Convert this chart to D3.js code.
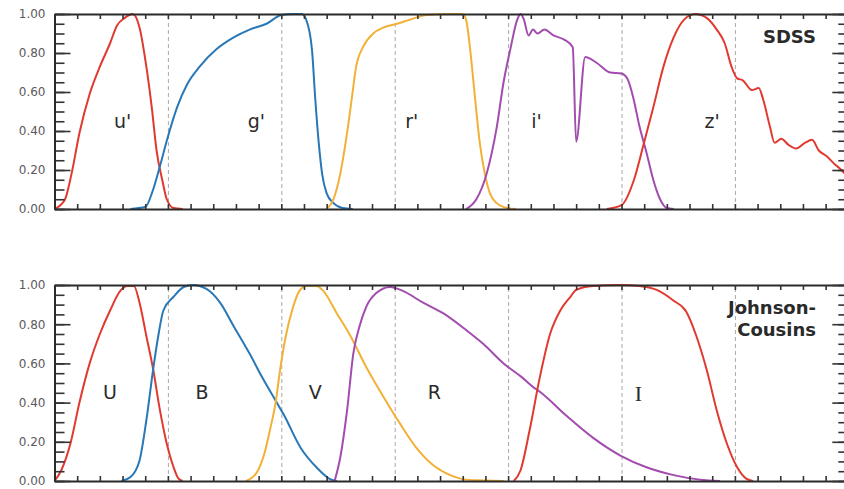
<!DOCTYPE html>
<html>
<head>
<meta charset="utf-8">
<script src="https://cdn.jsdelivr.net/npm/d3@7"></script>
<style>
  body { margin: 0; background: #fff; }
  svg { display: block; }
</style>
</head>
<body>
<div id="chart"></div>
<script>
// filter curves as [wavelength nm, transmission]
var uSdss = [[300,0],[309,0.046],[315,0.18],[322,0.39],[331,0.59],[340,0.73],[349,0.85],[355,0.94],[362,0.98],[369,1.0],[375,0.93],[381,0.73],[386,0.51],[390,0.30],[395,0.15],[399,0.05],[405,0.005],[413,0]];
var gSdss = [[367,0],[380,0.01],[387,0.1],[393,0.22],[399,0.35],[408,0.52],[417,0.64],[428,0.73],[443,0.82],[458,0.88],[472,0.92],[487,0.95],[500,0.995],[510,1.0],[518,1.0],[522,0.97],[527,0.82],[530,0.56],[533,0.34],[536,0.18],[540,0.08],[546,0.03],[554,0.005],[563,0]];
var rSdss = [[540,0],[546,0.05],[552,0.18],[558,0.39],[562,0.56],[566,0.73],[572,0.83],[581,0.90],[590,0.93],[602,0.95],[613,0.97],[628,0.995],[649,1.0],[660,1.0],[663,0.97],[666.5,0.82],[671,0.56],[675,0.34],[679.5,0.18],[684,0.08],[690,0.03],[699,0.005],[707,0]];
var iSdss = [[663,0],[672,0.05],[681,0.18],[690,0.42],[696,0.65],[702,0.82],[708,0.97],[711,1.0],[714,0.97],[718,0.89],[722,0.92],[726,0.90],[732,0.92],[740,0.89],[749,0.87],[757,0.83],[760,0.345],[768,0.78],[778,0.75],[790,0.70],[800,0.695],[805,0.67],[810,0.58],[816,0.42],[822,0.29],[828,0.15],[834,0.05],[840,0.005],[846,0]];
var zSdss = [[787,0],[800,0.02],[811,0.15],[819,0.32],[828,0.52],[837,0.73],[846,0.88],[855,0.97],[865,1.0],[875,0.98],[884,0.92],[891,0.85],[897,0.73],[902,0.67],[907,0.66],[915,0.61],[921,0.62],[925,0.56],[931,0.42],[935,0.34],[941,0.36],[947,0.33],[954,0.31],[962,0.34],[968,0.355],[974,0.30],[981,0.27],[988,0.23],[994,0.20],[1000,0.16]];

var uJc = [[300,0],[306,0.055],[314,0.19],[322,0.40],[331,0.60],[340,0.75],[349,0.87],[358,0.97],[364,0.995],[370,0.995],[375,0.91],[381,0.74],[387,0.57],[393,0.36],[399,0.19],[405,0.07],[409,0.015],[413,0]];
var bJc = [[359,0],[367,0.02],[375,0.105],[381,0.31],[387,0.57],[391.5,0.74],[396,0.87],[405,0.94],[414,0.99],[422,1.0],[434,0.98],[446,0.91],[458,0.79],[472,0.65],[484,0.52],[496,0.40],[502,0.34],[517,0.17],[531,0.07],[543,0.01],[549,0]];
var vJc = [[469,0],[478,0.04],[486,0.16],[490,0.26],[495,0.40],[499,0.57],[504,0.74],[510,0.88],[516,0.97],[522,0.995],[531,0.995],[537,0.97],[549,0.855],[561,0.74],[575,0.58],[590,0.43],[605,0.29],[619,0.17],[634,0.08],[649,0.03],[663,0.007],[678,0.003],[696,0]];
var rJc = [[547,0],[552,0.12],[558,0.36],[563.5,0.65],[569,0.79],[575,0.89],[584,0.96],[596,0.99],[607,0.97],[625,0.91],[643,0.855],[663,0.77],[678,0.70],[696,0.60],[712,0.53],[722,0.48],[728,0.455],[752,0.33],[775,0.22],[799,0.13],[822,0.07],[846,0.03],[869,0.007],[887,0]];
var iJc = [[705,0],[711,0.055],[719,0.26],[728,0.53],[737,0.75],[746,0.87],[755,0.94],[760,0.975],[775,0.995],[799,1.0],[816,0.995],[831,0.975],[846,0.92],[857,0.865],[866,0.74],[875,0.57],[884,0.36],[893,0.19],[902,0.07],[910,0.012],[916,0]];

var sdssNames = ["u'", "g'", "r'", "i'", "z'"];
var sdssLabelNm = [360, 478, 615, 725, 880];
var jcNames = ["U", "B", "V", "R", "I"];
var jcLabelNm = [349, 430, 530, 635, 815];
var yTickValues = [0, 0.2, 0.4, 0.6, 0.8, 1.0];

var red = "#e03a30", blue = "#2878b8", orange = "#f2b136", purple = "#a24cae";
var bandColors = [red, blue, orange, purple, red];

var width = 844, height = 489;

var svg = d3.select("#chart")
  .append("svg")
    .attr("width", width)
    .attr("height", height);

// x is wavelength, same for both panels
var x = d3.scaleLinear().domain([300, 1000]).range([54.5, 848.3]);

var line = function(y) {
  return d3.line()
    .x(function(d) { return x(d[0]); })
    .y(function(d) { return y(d[1]); })
    .curve(d3.curveMonotoneX);
}

function panel(top, bottom, curves, names, labelNm, title) {
  var y = d3.scaleLinear().domain([0, 1]).range([bottom, top]);
  var g = svg.append("g");
  var h = bottom - top;

  // dashed verticals every 100 nm
  g.append("g")
    .attr("transform", "translate(0," + bottom + ")")
    .call(d3.axisBottom(x).tickValues(d3.range(400, 1000, 100)).tickSize(-h).tickFormat(""))
    .call(function(a) { a.select(".domain").remove(); })
    .selectAll(".tick line")
      .attr("stroke", "#a8a8a8")
      .attr("stroke-width", 1)
      .attr("stroke-dasharray", "4,3");

  // curves
  curves.forEach(function(c, i) {
    g.append("path")
      .datum(c)
      .attr("fill", "none")
      .attr("stroke", bandColors[i])
      .attr("stroke-width", 2)
      .attr("stroke-linejoin", "round")
      .attr("d", line(y));
  });

  // band names
  g.selectAll(".band")
    .data(names)
    .enter().append("text")
      .attr("x", function(d, i) { return x(labelNm[i]); })
      .attr("y", y(0.45))
      .attr("dy", "0.35em")
      .attr("text-anchor", "middle")
      .style("font-family", function(d) { return d == "I" ? "'Liberation Serif', serif" : "'DejaVu Sans', sans-serif"; })
      .style("font-size", function(d) { return d == "I" ? "22px" : "19px"; })
      .style("fill", "#2a2a2a")
      .text(function(d) { return d; });

  // title, right aligned
  g.append("text")
    .attr("x", 816)
    .attr("y", top + 29)
    .attr("dy", "0.35em")
    .attr("text-anchor", "end")
    .style("font-family", "'DejaVu Sans', sans-serif")
    .style("font-weight", "bold")
    .style("font-size", "18px")
    .style("fill", "#2a2a2a")
    .selectAll("tspan")
    .data(title)
    .enter().append("tspan")
      .attr("x", 816)
      .attr("dy", function(d, i) { return i == 0 ? 0 : "1.2em"; })
      .text(function(d) { return d; });

  // ticks, all pointing inward
  var minorX = d3.range(300, 1001, 20);
  var minorY = d3.range(0, 1.001, 0.05);

  g.append("g")
    .attr("transform", "translate(0," + bottom + ")")
    .call(d3.axisBottom(x).tickValues(minorX).tickSize(-5).tickSizeOuter(0).tickFormat(""));
  g.append("g")
    .attr("transform", "translate(0," + top + ")")
    .call(d3.axisTop(x).tickValues(minorX).tickSize(-5).tickSizeOuter(0).tickFormat(""));

  g.append("g")
    .attr("transform", "translate(" + x(300) + ",0)")
    .call(d3.axisLeft(y).tickValues(minorY).tickSize(-10).tickSizeOuter(0).tickFormat(""));
  g.append("g")
    .attr("class", "ylab")
    .attr("transform", "translate(" + x(300) + ",0)")
    .call(d3.axisLeft(y).tickValues(yTickValues).tickSize(-16).tickSizeOuter(0).tickPadding(9).tickFormat(d3.format(".2f")));

  g.append("g")
    .attr("transform", "translate(" + x(1000) + ",0)")
    .call(d3.axisRight(y).tickValues(minorY).tickSize(-10).tickSizeOuter(0).tickFormat(""));
  g.append("g")
    .attr("transform", "translate(" + x(1000) + ",0)")
    .call(d3.axisRight(y).tickValues(yTickValues).tickSize(-16).tickSizeOuter(0).tickFormat(""));

  g.selectAll(".tick line").filter(function() { return !d3.select(this).attr("stroke-dasharray"); })
    .attr("stroke", "#333")
    .attr("stroke-width", 1.6);
  g.selectAll(".domain")
    .attr("stroke", "#2a2a2a")
    .attr("stroke-width", 2);
  g.selectAll(".ylab text")
    .style("font-family", "'DejaVu Sans', sans-serif")
    .style("font-size", "12px")
    .style("fill", "#5a5a5a");
}

panel(14, 209, [uSdss, gSdss, rSdss, iSdss, zSdss], sdssNames, sdssLabelNm, ["SDSS"]);
panel(285, 481, [uJc, bJc, vJc, rJc, iJc], jcNames, jcLabelNm, ["Johnson-", "Cousins"]);
</script>
</body>
</html>
